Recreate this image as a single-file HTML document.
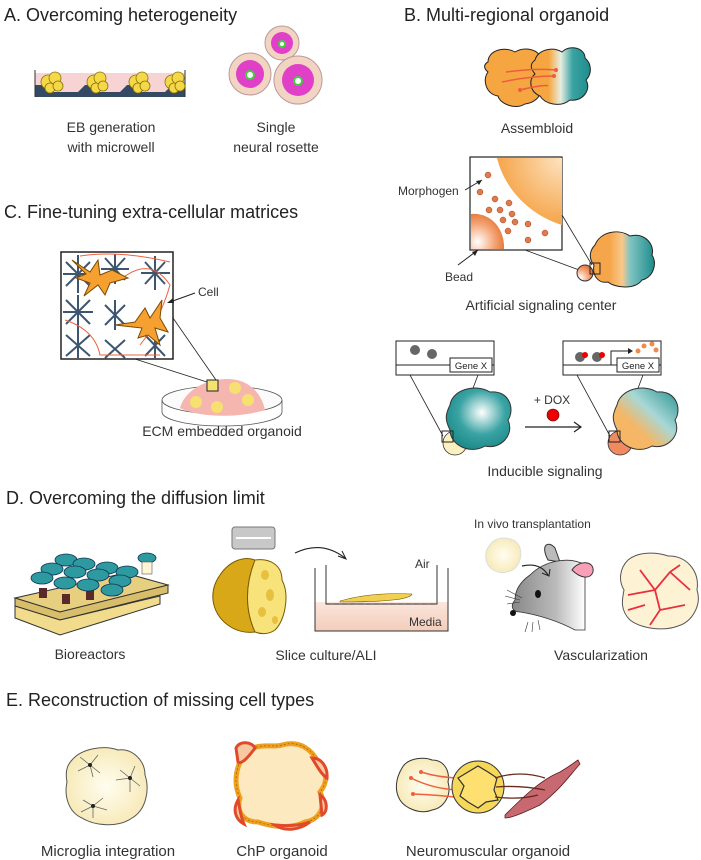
<!DOCTYPE html>
<html><head><meta charset="utf-8"><style>
html,body{margin:0;padding:0;background:#fff;}
svg{display:block;font-family:"Liberation Sans",sans-serif;}
</style></head><body>
<svg width="701" height="860" viewBox="0 0 701 860" xmlns="http://www.w3.org/2000/svg">
<defs>
<radialGradient id="teal" cx="0.55" cy="0.4" r="0.6"><stop offset="0" stop-color="#fff"/><stop offset="0.6" stop-color="#3aa3a3"/><stop offset="1" stop-color="#1f8c8c"/></radialGradient>
<linearGradient id="ot" x1="0" y1="1" x2="1" y2="0"><stop offset="0.35" stop-color="#f5b665"/><stop offset="0.6" stop-color="#a8d8d6"/><stop offset="1" stop-color="#239090"/></linearGradient>
<linearGradient id="ot2" x1="0" y1="0" x2="1" y2="0"><stop offset="0.3" stop-color="#f5a64a"/><stop offset="0.5" stop-color="#f8c98c"/><stop offset="0.62" stop-color="#7fc4c2"/><stop offset="1" stop-color="#1f8c8c"/></linearGradient>
<linearGradient id="asm" x1="0" y1="0" x2="1" y2="0"><stop offset="0.3" stop-color="#f5a640"/><stop offset="0.5" stop-color="#e8eee0"/><stop offset="0.7" stop-color="#3aa3a3"/><stop offset="1" stop-color="#1f8c8c"/></linearGradient>
<radialGradient id="org" cx="1" cy="0" r="1"><stop offset="0" stop-color="#fde3c0"/><stop offset="1" stop-color="#f5a54a"/></radialGradient>
<radialGradient id="bead" cx="0.2" cy="0.8" r="0.9"><stop offset="0" stop-color="#fff"/><stop offset="0.6" stop-color="#f4a070"/><stop offset="1" stop-color="#e07030"/></radialGradient>
<linearGradient id="mouse" x1="0" y1="0" x2="1" y2="0"><stop offset="0" stop-color="#888"/><stop offset="0.6" stop-color="#bbb"/><stop offset="1" stop-color="#fff"/></linearGradient>
<linearGradient id="media" x1="0" y1="0" x2="0" y2="1"><stop offset="0" stop-color="#fbe6dc"/><stop offset="1" stop-color="#f2cdbb"/></linearGradient>
<radialGradient id="cream" cx="0.5" cy="0.5" r="0.6"><stop offset="0" stop-color="#fffdf0"/><stop offset="1" stop-color="#f6e7b0"/></radialGradient>
</defs>

<!-- Headings -->
<g font-size="18" fill="#222">
<text x="4" y="21">A. Overcoming heterogeneity</text>
<text x="404" y="21">B. Multi-regional organoid</text>
<text x="4" y="218">C. Fine-tuning extra-cellular matrices</text>
<text x="6" y="504">D. Overcoming the diffusion limit</text>
<text x="6" y="706">E. Reconstruction of missing cell types</text>
</g>

<!-- A: microwell -->
<rect x="35" y="73" width="150" height="24" fill="#f7d3d3"/>
<path d="M35 85 L35 97 L185 97 L185 85 L172 85 L165 92 L142 92 L135 85 L127 85 L120 92 L97 92 L90 85 L85 85 L78 92 L54 92 L47 85 Z" fill="#344963"/>
<line x1="35" y1="70" x2="35" y2="97" stroke="#333"/><line x1="185" y1="70" x2="185" y2="97" stroke="#333"/>
<g fill="#f5d74a" stroke="#8a7400" stroke-width="0.8">
<circle cx="48" cy="82" r="7"/><circle cx="55" cy="78" r="6"/><circle cx="50" cy="88" r="5"/><circle cx="58" cy="86" r="5"/>
<circle cx="94" cy="82" r="7"/><circle cx="100" cy="78" r="6"/><circle cx="96" cy="88" r="5"/><circle cx="103" cy="86" r="5"/>
<circle cx="136" cy="82" r="7"/><circle cx="142" cy="78" r="6"/><circle cx="138" cy="88" r="5"/><circle cx="145" cy="86" r="5"/>
<circle cx="172" cy="82" r="7"/><circle cx="178" cy="78" r="6"/><circle cx="174" cy="88" r="5"/><circle cx="180" cy="86" r="5"/>
</g>
<g stroke="#b99" stroke-width="1" fill="#f2d4c2">
<circle cx="282" cy="43" r="17"/><circle cx="250" cy="74" r="21"/><circle cx="298" cy="80" r="24"/>
</g>
<g fill="#e040c8"><circle cx="282" cy="43" r="11"/><circle cx="250" cy="74" r="14"/><circle cx="298" cy="80" r="16"/></g>
<g fill="#fff" stroke="#4c4" stroke-width="2"><circle cx="282" cy="44" r="3"/><circle cx="250" cy="75" r="4"/><circle cx="298" cy="81" r="4"/></g>
<g font-size="14" fill="#333" text-anchor="middle">
<text x="111" y="132">EB generation</text><text x="111" y="152">with microwell</text>
<text x="276" y="132">Single</text><text x="276" y="152">neural rosette</text>
</g>

<!-- B: assembloid -->
<path d="M488 62 C488 50 505 46 515 52 C525 46 540 50 540 58 C548 62 546 72 540 76 C546 88 540 102 525 104 C515 110 500 104 498 96 C486 94 482 80 488 72 C483 68 484 64 488 62Z" fill="#f5a640" stroke="#222"/>
<path d="M535 60 C538 50 552 46 562 52 C570 44 585 48 585 58 C592 64 592 74 586 80 C592 90 582 102 570 100 C560 108 545 104 540 96 C530 92 528 80 535 74 C530 68 530 64 535 60Z" fill="url(#asm)" stroke="#222"/>
<g stroke="#f05a40" stroke-width="1.5" fill="none"><path d="M506 72 Q535 68 556 70"/><path d="M502 82 Q530 76 554 76"/><path d="M520 90 Q545 84 548 86"/></g>
<g fill="#f05a40"><circle cx="556" cy="70" r="2"/><circle cx="554" cy="76" r="2"/><circle cx="520" cy="90" r="2"/></g>
<text x="537" y="133" font-size="14" fill="#333" text-anchor="middle">Assembloid</text>

<!-- B: artificial signaling center -->
<rect x="470" y="157" width="92" height="93" fill="#fff" stroke="#222" stroke-width="1.2"/>
<path d="M562 158 L497 158 C505 190 530 215 562 225 Z" fill="url(#org)"/>
<path d="M471 249 L471 214 C490 212 505 228 504 249 Z" fill="url(#bead)"/>
<g fill="#e07a4a" stroke="#a04020" stroke-width="0.5">
<circle cx="488" cy="175" r="3"/><circle cx="480" cy="192" r="3"/><circle cx="495" cy="199" r="3"/><circle cx="509" cy="203" r="3"/><circle cx="489" cy="210" r="3"/><circle cx="500" cy="210" r="3"/><circle cx="512" cy="214" r="3"/><circle cx="503" cy="220" r="3"/><circle cx="515" cy="222" r="3"/><circle cx="528" cy="224" r="3"/><circle cx="508" cy="231" r="3"/><circle cx="545" cy="233" r="3"/><circle cx="528" cy="240" r="3"/>
</g>
<line x1="562" y1="215" x2="592" y2="265" stroke="#222" stroke-width="0.8"/>
<line x1="525" y1="250" x2="590" y2="274" stroke="#222" stroke-width="0.8"/>
<path d="M595 245 C600 232 618 228 630 236 C645 232 655 245 652 255 C658 265 652 278 642 280 C635 290 615 288 608 282 C598 284 592 275 594 265 C588 258 590 250 595 245Z" fill="url(#ot2)" stroke="#222"/>
<circle cx="585" cy="273" r="8" fill="url(#bead)" stroke="#333"/>
<rect x="590" y="263" width="10" height="11" fill="none" stroke="#222"/>
<g font-size="12" fill="#333"><text x="398" y="195">Morphogen</text><text x="445" y="281">Bead</text></g>
<line x1="465" y1="190" x2="482" y2="180" stroke="#222"/><path d="M482 180 l-6 1 l3 4z" fill="#222"/>
<line x1="458" y1="265" x2="478" y2="250" stroke="#222"/><path d="M478 250 l-6 2 l3 4z" fill="#222"/>
<text x="541" y="310" font-size="14" fill="#333" text-anchor="middle">Artificial signaling center</text>

<!-- B: inducible -->
<rect x="396" y="341" width="98" height="24" fill="#fff" stroke="#222"/>
<rect x="396" y="365" width="98" height="10" fill="#fff" stroke="#222"/>
<rect x="450" y="358" width="42" height="14" fill="#fff" stroke="#222"/>
<text x="471" y="369" font-size="9.5" text-anchor="middle" fill="#222">Gene X</text>
<circle cx="415" cy="350" r="5" fill="#666"/><circle cx="432" cy="354" r="5" fill="#666"/>
<rect x="563" y="341" width="98" height="24" fill="#fff" stroke="#222"/>
<rect x="563" y="365" width="98" height="10" fill="#fff" stroke="#222"/>
<rect x="617" y="358" width="42" height="14" fill="#fff" stroke="#222"/>
<text x="638" y="369" font-size="9.5" text-anchor="middle" fill="#222">Gene X</text>
<circle cx="580" cy="357" r="5" fill="#666"/><circle cx="597" cy="357" r="5" fill="#666"/>
<circle cx="585" cy="355" r="3" fill="#e00"/><circle cx="602" cy="355" r="3" fill="#e00"/>
<path d="M611 365 V351 H628" stroke="#222" fill="none"/><path d="M628 348 L633 351 L628 354Z" fill="#222"/>
<g fill="#f08a4a"><circle cx="638" cy="351" r="2.5"/><circle cx="644" cy="346" r="2.5"/><circle cx="652" cy="344" r="2.5"/><circle cx="656" cy="350" r="2.5"/></g>
<line x1="410" y1="375" x2="443" y2="436" stroke="#222" stroke-width="0.8"/><line x1="478" y1="375" x2="455" y2="436" stroke="#222" stroke-width="0.8"/>
<line x1="577" y1="375" x2="610" y2="436" stroke="#222" stroke-width="0.8"/><line x1="643" y1="375" x2="620" y2="436" stroke="#222" stroke-width="0.8"/>
<circle cx="455" cy="443" r="12" fill="#fdf0c0" stroke="#333" stroke-width="0.8"/>
<path d="M450 405 C452 390 475 383 490 392 C510 390 515 410 508 420 C515 435 500 450 485 446 C470 455 450 445 450 430 C445 420 445 415 450 405Z" fill="url(#teal)" stroke="#333"/>
<rect x="442" y="431" width="11" height="11" fill="none" stroke="#222"/>
<circle cx="620" cy="443" r="12" fill="#f08a60" stroke="#333" stroke-width="0.8"/>
<path d="M617 405 C620 390 642 383 657 392 C677 390 682 410 675 420 C682 435 667 450 652 446 C637 455 617 445 617 430 C612 420 612 415 617 405Z" fill="url(#ot)" stroke="#333"/>
<rect x="609" y="431" width="11" height="11" fill="none" stroke="#222"/>
<text x="552" y="404" font-size="12" fill="#333" text-anchor="middle">+ DOX</text>
<circle cx="553" cy="415" r="6" fill="#e00" stroke="#600" stroke-width="0.6"/>
<line x1="525" y1="427" x2="580" y2="427" stroke="#222" stroke-width="1.2"/><path d="M574 422 L581 427 L574 432" fill="none" stroke="#222" stroke-width="1.2"/>
<text x="545" y="476" font-size="14" fill="#333" text-anchor="middle">Inducible signaling</text>

<!-- C: ECM -->
<rect x="61" y="252" width="112" height="107" fill="#fff" stroke="#222" stroke-width="1.5"/>
<g stroke="#3d5670" stroke-width="2">
<path d="M66 262 L90 286 M90 262 L66 286 M78 255 V293 M63 274 H93"/>
<path d="M105 258 L125 280 M125 258 L105 280 M115 254 V284 M101 269 H129"/>
<path d="M145 262 L165 284 M165 262 L145 284 M155 256 V290 M141 273 H170"/>
<path d="M66 300 L90 324 M90 300 L66 324 M78 295 V330 M63 312 H93"/>
<path d="M105 305 L125 325 M125 305 L105 325 M115 300 V330"/>
<path d="M66 335 L90 356 M90 335 L66 356 M78 330 V358"/>
<path d="M105 340 L125 358 M125 340 L105 358"/>
<path d="M145 335 L165 356 M165 335 L145 356 M155 330 V358"/>
</g>
<g stroke="#f06040" stroke-width="1" fill="none"><path d="M80 256 Q120 250 170 262"/><path d="M120 280 Q150 255 170 285 Q160 320 140 345"/><path d="M65 320 Q95 330 100 355 H160"/></g>
<g fill="#f5a030" stroke="#7a4a00" stroke-width="1">
<path d="M72 260 L90 272 L98 260 L100 275 L112 270 L128 278 L110 283 L105 295 L98 285 L84 296 L90 283 L76 278 L86 274 Z"/>
<path d="M115 325 L135 322 L145 308 L150 318 L162 300 L160 318 L168 332 L155 328 L160 345 L148 335 L138 338 L142 328 Z"/>
</g>
<text x="198" y="296" font-size="12" fill="#333">Cell</text>
<line x1="195" y1="293" x2="170" y2="302" stroke="#222"/><path d="M167 303 l6 -5 l1 5z" fill="#222"/>
<line x1="135" y1="359" x2="210" y2="383" stroke="#222" stroke-width="0.8"/>
<line x1="173" y1="318" x2="216" y2="380" stroke="#222" stroke-width="0.8"/>
<ellipse cx="222" cy="400" rx="60" ry="14" fill="#fbfbfb" stroke="#555" stroke-width="0.8"/>
<path d="M180 408 C185 390 205 380 225 379 C250 378 262 395 265 410 C240 418 200 418 180 408Z" fill="#f5b6b0"/>
<g fill="#f6e070"><circle cx="196" cy="402" r="6"/><circle cx="217" cy="407" r="6"/><circle cx="235" cy="388" r="6"/><circle cx="248" cy="400" r="6"/></g>
<rect x="207" y="380" width="11" height="11" fill="#f6e070" stroke="#222"/>
<path d="M162 400 V412 A60 14 0 0 0 282 412 V400" fill="none" stroke="#555" stroke-width="0.8"/>
<text x="222" y="436" font-size="14" fill="#333" text-anchor="middle">ECM embedded organoid</text>

<!-- D: bioreactors -->
<path d="M15 598 L125 573 L168 585 L60 612 Z" fill="#e7cf80" stroke="#333"/>
<path d="M15 598 L15 606 L60 620 L168 593 L168 585 L60 612 Z" fill="#d8be6a" stroke="#333"/>
<path d="M15 606 L15 618 L60 635 L160 604 L160 596 L60 620 Z" fill="#f0dc8c" stroke="#333"/>
<g fill="#5a2a2a"><rect x="39" y="588" width="8" height="10"/><rect x="62" y="594" width="8" height="10"/><rect x="86" y="590" width="8" height="10"/><rect x="110" y="586" width="8" height="10"/></g>
<g fill="#2d9aa0" stroke="#135" stroke-width="0.8">
<ellipse cx="66" cy="560" rx="11" ry="6"/><ellipse cx="84" cy="564" rx="11" ry="6"/><ellipse cx="107" cy="568" rx="11" ry="6"/>
<ellipse cx="52" cy="569" rx="11" ry="6"/><ellipse cx="75" cy="572" rx="11" ry="6"/><ellipse cx="98" cy="575" rx="11" ry="6"/><ellipse cx="127" cy="572" rx="11" ry="6"/>
<ellipse cx="42" cy="578" rx="11" ry="6"/><ellipse cx="65" cy="583" rx="11" ry="6"/><ellipse cx="88" cy="585" rx="11" ry="6"/><ellipse cx="120" cy="581" rx="11" ry="6"/>
<ellipse cx="112" cy="590" rx="11" ry="6"/><ellipse cx="147" cy="558" rx="9" ry="5"/>
</g>
<rect x="142" y="562" width="10" height="12" fill="#fff6d6" stroke="#555" stroke-width="0.6"/>
<text x="90" y="659" font-size="14" fill="#333" text-anchor="middle">Bioreactors</text>

<!-- D: slice -->
<rect x="232" y="527" width="43" height="22" rx="3" fill="#c8c8c8" stroke="#777"/>
<line x1="236" y1="538" x2="271" y2="538" stroke="#fff" stroke-width="2"/>
<path d="M220 575 C230 560 245 556 255 560 C245 585 245 610 255 632 C235 635 215 620 213 600 C212 590 215 582 220 575Z" fill="#d8a818" stroke="#7a5a00"/>
<path d="M255 560 C270 558 282 565 282 580 C290 595 285 620 275 630 C268 635 260 634 255 632 C245 610 245 585 255 560Z" fill="#f7e37a" stroke="#7a5a00"/>
<g fill="#e8c040"><ellipse cx="265" cy="575" rx="4" ry="5"/><ellipse cx="270" cy="595" rx="4" ry="6"/><ellipse cx="262" cy="612" rx="4" ry="5"/><ellipse cx="275" cy="620" rx="3" ry="4"/></g>
<path d="M295 553 Q322 540 345 558" fill="none" stroke="#222" stroke-width="1.2"/><path d="M338 556 L346 559 L342 551" fill="none" stroke="#222"/>
<rect x="315" y="602" width="133" height="29" fill="url(#media)"/>
<path d="M315 568 V631 H448 V568" fill="none" stroke="#333"/>
<path d="M326 565 V604 H437 V565" fill="none" stroke="#333"/>
<line x1="326" y1="604" x2="437" y2="604" stroke="#222" stroke-dasharray="5 3"/>
<path d="M340 601 Q370 592 412 594 Q410 602 340 602Z" fill="#f0d050" stroke="#7a5a00" stroke-width="0.6"/>
<text x="415" y="568" font-size="12" fill="#333">Air</text>
<text x="409" y="626" font-size="12" fill="#333">Media</text>
<text x="326" y="660" font-size="14" fill="#333" text-anchor="middle">Slice culture/ALI</text>

<!-- D: vascularization -->
<text x="474" y="528" font-size="12" fill="#333">In vivo transplantation</text>
<path d="M490 545 C495 536 512 536 518 544 C524 552 520 568 510 571 C498 576 486 568 486 558 C485 552 487 548 490 545Z" fill="url(#cream)" stroke="#ddd"/>
<path d="M548 560 C540 545 548 540 555 548 L560 562Z" fill="#bbb" stroke="#333"/>
<path d="M530 575 C545 560 570 556 585 565 L585 630 L575 630 C560 622 540 615 520 612 C512 612 510 606 515 600 C515 590 520 582 530 575Z" fill="url(#mouse)" stroke="#333" stroke-width="0.8"/>
<path d="M572 570 C578 560 595 560 593 572 C590 580 580 578 572 570Z" fill="#f8a0b8" stroke="#333"/>
<ellipse cx="538" cy="594" rx="3" ry="4" fill="#111"/>
<circle cx="513" cy="613" r="3" fill="#111"/>
<g stroke="#333" stroke-width="0.6"><path d="M507 590 L522 598 M505 596 L520 600 M507 604 L520 602 M528 622 L525 632 M533 622 L532 632 M538 620 L540 630"/></g>
<path d="M522 566 Q540 562 548 575" fill="none" stroke="#222" stroke-width="1.2"/><path d="M542 573 L549 576 L550 569" fill="none" stroke="#222"/>
<path d="M628 560 C640 550 660 553 668 556 C685 555 700 570 697 590 C702 605 692 622 678 626 C662 632 640 628 630 620 C620 610 622 600 624 590 C618 580 620 568 628 560Z" fill="#fdf3d4" stroke="#555"/>
<g stroke="#e83040" stroke-width="1.8" fill="none"><path d="M640 570 L655 590 L670 572 L680 565 M655 590 L660 610 L650 625 M660 610 L685 605 M655 590 L628 595 M670 572 L690 590 M645 605 L628 610"/></g>
<text x="601" y="660" font-size="14" fill="#333" text-anchor="middle">Vascularization</text>

<!-- E -->
<path d="M72 760 C82 748 105 745 118 750 C132 748 145 760 145 775 C150 790 146 810 132 818 C118 828 95 826 82 818 C68 812 64 795 67 782 C65 772 67 765 72 760Z" fill="url(#cream)" stroke="#555"/>
<g stroke="#666" stroke-width="0.8" fill="none">
<path d="M90 765 l-10 -8 M90 765 l8 -10 M90 765 l-12 6 M90 765 l10 8 M90 765 l3 12"/>
<path d="M130 778 l-10 -8 M130 778 l5 -12 M130 778 l-14 2 M130 778 l10 8 M130 778 l0 14"/>
<path d="M93 806 l-10 -6 M93 806 l10 -8 M93 806 l0 12 M93 806 l-12 6 M93 806 l14 4"/>
</g>
<g fill="#222"><circle cx="90" cy="765" r="2"/><circle cx="130" cy="778" r="2"/><circle cx="93" cy="806" r="2"/></g>
<text x="108" y="856" font-size="15" fill="#333" text-anchor="middle">Microglia integration</text>
<path d="M245 752 C260 742 272 748 282 745 C300 740 312 750 318 762 C328 770 328 782 320 792 C327 805 320 820 305 822 C290 830 270 826 258 822 C242 822 236 810 240 798 C234 785 234 770 245 752Z" fill="#fde9c0" stroke="#f0a020" stroke-width="5"/>
<path d="M245 752 C260 742 272 748 282 745 C300 740 312 750 318 762 C328 770 328 782 320 792 C327 805 320 820 305 822 C290 830 270 826 258 822 C242 822 236 810 240 798 C234 785 234 770 245 752Z" fill="none" stroke="#8a5a00" stroke-width="0.6" stroke-dasharray="2 2"/>
<g fill="#f7c9a0" stroke="#e04a2a" stroke-width="3"><path d="M236 748 C240 740 252 742 255 748 C250 755 242 765 238 762Z"/><path d="M312 758 C322 758 328 768 327 778 C322 775 318 768 312 758Z"/><path d="M238 800 C232 810 236 820 244 824 C240 815 240 808 238 800Z"/><path d="M275 825 C285 832 300 830 310 822 C300 826 285 826 275 825Z"/><path d="M320 795 C328 800 328 812 322 815Z"/></g>
<text x="282" y="856" font-size="15" fill="#333" text-anchor="middle">ChP organoid</text>
<path d="M402 768 C408 757 425 757 432 760 C445 760 450 772 448 782 C452 795 444 808 432 810 C420 815 405 808 400 800 C394 790 396 778 402 768Z" fill="url(#cream)" stroke="#333"/>
<g stroke="#f06040" stroke-width="1.5" fill="none"><path d="M421 772 Q440 778 462 778"/><path d="M411 778 Q435 790 462 790"/><path d="M413 794 Q440 795 462 798"/></g>
<g fill="#f06040"><circle cx="421" cy="772" r="2"/><circle cx="411" cy="778" r="2"/><circle cx="413" cy="794" r="2"/></g>
<circle cx="478" cy="787" r="26" fill="#f5d85a" stroke="#333"/>
<path d="M468 772 L478 766 L488 772 L497 778 L494 790 L498 800 L486 802 L478 808 L468 802 L460 796 L464 786 L458 778 Z" fill="#fde070" stroke="#333" stroke-width="1.2"/>
<path d="M505 815 C520 800 540 780 560 772 C570 766 575 762 578 760 L580 764 C570 775 560 790 540 805 C525 812 512 818 505 818Z" fill="#c86870" stroke="#5a2020" stroke-width="0.8"/>
<g stroke="#6a2a1a" stroke-width="1.3" fill="none"><path d="M495 778 Q520 770 545 778"/><path d="M496 787 Q520 785 545 790"/><path d="M495 797 Q520 800 538 795"/></g>
<text x="488" y="856" font-size="15" fill="#333" text-anchor="middle">Neuromuscular organoid</text>
</svg>
</body></html>
